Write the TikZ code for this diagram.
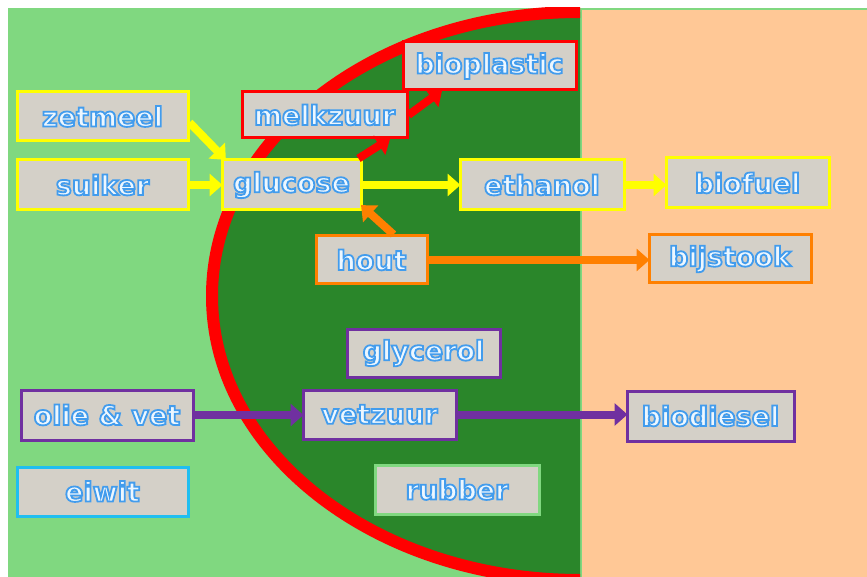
\documentclass[tikz,border=0pt]{standalone}
\usepackage{fontspec}
\setmainfont{DejaVu Sans}
\usetikzlibrary{arrows.meta}
\definecolor{lgreen}{RGB}{128,216,128}
\definecolor{dgreen}{RGB}{42,134,42}
\definecolor{peach}{RGB}{255,200,150}
\definecolor{boxfill}{RGB}{212,208,200}
\definecolor{yel}{RGB}{255,255,0}
\definecolor{org}{RGB}{255,128,0}
\definecolor{purp}{RGB}{112,48,160}
\definecolor{cyanb}{RGB}{32,190,240}
\definecolor{redc}{RGB}{255,0,0}
\tikzset{
  box/.style={draw, line width=3pt, fill=boxfill, inner sep=0pt,
    font=\bfseries\fontsize{27}{27}\selectfont,
    execute at begin node={\special{pdf:literal direct 2 Tr 1.8 w 0.93 0.97 1 rg 0.26 0.61 0.93 RG}},
    execute at end node={\special{pdf:literal direct 0 Tr}}},
  flow/.style={line width=8pt, -{Triangle[length=13pt,width=22pt]}, shorten >=-2pt}
}
\begin{document}
\begin{tikzpicture}[x=1pt,y=-1pt]
\useasboundingbox (0,0) rectangle (867,577);
\fill[white] (0,0) rectangle (867,577);
% backgrounds
\fill[lgreen] (8,8) rectangle (867,577);
\fill[peach] (582,10) rectangle (867,577);
\begin{scope}
  \clip (8,8) rectangle (580,577);
  \draw[redc, line width=12pt, fill=dgreen] (580,296) ellipse [x radius=368, y radius=284];
\end{scope}
% boxes
\node[box, draw=yel, minimum width=171pt, minimum height=49pt] (zetmeel) at (102.5,116.5) {zetmeel};
\node[box, draw=yel, minimum width=171pt, minimum height=50pt] (suiker) at (102.5,185) {suiker};
\node[box, draw=yel, minimum width=139pt, minimum height=50pt] (glucose) at (291.5,185) {glucose};
\node[box, draw=redc, minimum width=165pt, minimum height=46pt] (melkzuur) at (324.5,115) {melkzuur};
\node[box, draw=redc, minimum width=173pt, minimum height=48pt] (bioplastic) at (489.5,66) {bioplastic};
\node[box, draw=yel, minimum width=164pt, minimum height=50pt] (ethanol) at (542,185) {ethanol};
\node[box, draw=yel, minimum width=163pt, minimum height=50pt] (biofuel) at (747.5,183) {biofuel};
\node[box, draw=org, minimum width=111pt, minimum height=48pt] (hout) at (371.5,260) {hout};
\node[box, draw=org, minimum width=162pt, minimum height=48pt] (bijstook) at (730,259) {bijstook};
\node[box, draw=purp, minimum width=153pt, minimum height=48pt] (glycerol) at (423.5,353) {glycerol};
\node[box, draw=purp, minimum width=172pt, minimum height=50pt] (olie) at (107,415) {olie \& vet};
\node[box, draw=purp, minimum width=153pt, minimum height=49pt] (vetzuur) at (379.5,414.5) {vetzuur};
\node[box, draw=purp, minimum width=167pt, minimum height=50pt] (biodiesel) at (710.5,416) {biodiesel};
\node[box, draw=cyanb, minimum width=171pt, minimum height=49pt] (eiwit) at (102.5,491.5) {eiwit};
\node[box, draw=lgreen, minimum width=164pt, minimum height=49pt] (rubber) at (457,489.5) {rubber};
% connectors
\draw[flow, yel] ([yshift=-6pt]zetmeel.east) -- ([xshift=4pt]glucose.north west);
\draw[flow, yel] (suiker) -- (glucose);
\draw[flow, redc] ([xshift=-4pt]glucose.north east) -- ([xshift=-20pt]melkzuur.south east);
\draw[flow, redc] (melkzuur.east) -- ([xshift=39pt]bioplastic.south west);
\draw[flow, yel] (glucose) -- (ethanol);
\draw[flow, yel] (ethanol.east) -- (ethanol.east -| biofuel.west);
\draw[flow, org] ([xshift=22pt]hout.north) -- ([yshift=5pt]glucose.south east);
\draw[flow, org] (hout.east) -- (hout.east -| bijstook.west);
\draw[flow, purp] (olie.east) -- (olie.east -| vetzuur.west);
\draw[flow, purp] (vetzuur.east) -- (vetzuur.east -| biodiesel.west);
\end{tikzpicture}
\end{document}
